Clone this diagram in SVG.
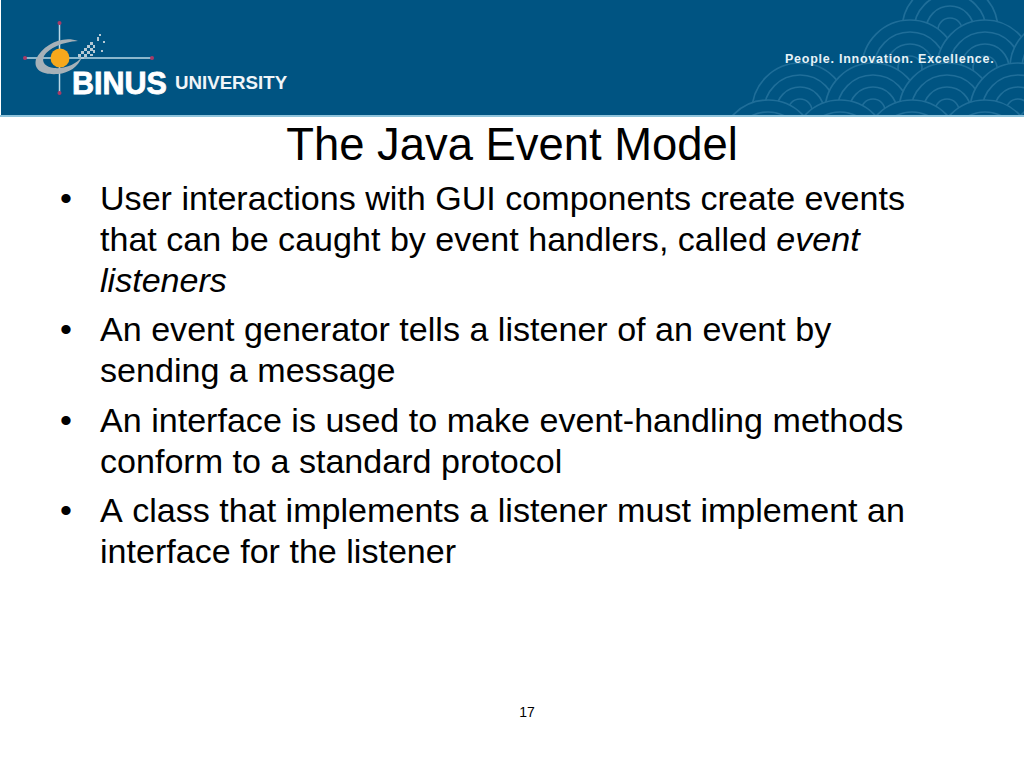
<svg xmlns="http://www.w3.org/2000/svg" width="1024" height="768" viewBox="0 0 1024 768">
<defs>
<style>
text{font-family:"Liberation Sans",Arial,sans-serif}
.b{font-size:34.1px;fill:#000;font-kerning:none}
.w{fill:#005482;stroke:#1f6e99;stroke-width:1.7}
.d{fill:#b5c9d4}
.m{fill:#a83a66}
</style>
<clipPath id="bc"><rect x="720" y="0" width="304" height="115"/></clipPath>
<g id="sc">
<circle class="w" r="48"/>
<circle class="w" r="36"/>
<circle class="w" r="24"/>
<circle class="w" r="12"/>
</g>
</defs>
<rect width="1024" height="768" fill="#fff"/>
<g id="banner">
<rect x="1" y="0" width="1023" height="115" fill="#005482"/>
<rect x="0" y="115" width="1024" height="2" fill="#8fc4dc"/>
<g clip-path="url(#bc)" id="waves">
<use href="#sc" x="950" y="30"/>
<use href="#sc" x="910" y="68"/>
<use href="#sc" x="985" y="68"/>
<use href="#sc" x="1058" y="68"/>
<use href="#sc" x="800" y="111"/>
<use href="#sc" x="873" y="111"/>
<use href="#sc" x="947" y="111"/>
<use href="#sc" x="1018" y="111"/>
<use href="#sc" x="768" y="148"/>
<use href="#sc" x="840" y="148"/>
<use href="#sc" x="912" y="148"/>
<use href="#sc" x="985" y="148"/>
<use href="#sc" x="1056" y="148"/>
</g>
<text x="785" y="63" font-size="12.5" font-weight="700" fill="#e6f2f7" letter-spacing="0.75">People. Innovation. Excellence.</text>
</g>
<g id="logo">
<path d="M59.500 23V94M25 58H152" stroke="#b9d7e6" stroke-width="1.5" fill="none"/>
<circle class="m" cx="59.500" cy="23" r="2"/><circle class="m" cx="59.500" cy="93" r="2"/><circle class="m" cx="25" cy="58" r="2"/><circle class="m" cx="152" cy="58" r="2"/>
<path d="M78 41C62 35 43 45 36 59C33 71 44 75 58 74C69 73 78 67 82 57C76 64 66 69 54 68C46 67 41 63 44 56C49 48 62 42 78 41Z" fill="#a6b1b8"/>
<circle cx="60" cy="58" r="9.500" fill="#f6a81c"/>
<path class="d" d="M78 54h3v3h-3zM81 51h3v3h-3zM84 48h3v3h-3zM87 45h3v3h-3zM90 42h3v3h-3zM84 54h3v3h-3zM87 51h3v3h-3zM90 48h3v3h-3zM93 45h2v3h-2zM81 57h3v2h-3zM90 54h3v2h-3zM93 50h2v3h-2zM97 37h2v4h-2zM99 34h2v2h-2zM103 41h2v2h-2zM101 50h2v2h-2z"/>
<text x="72" y="94" font-size="30.500" font-weight="700" fill="#fff" stroke="#fff" stroke-width=".8">BINUS</text>
<text x="175" y="89" font-size="18.700" font-weight="700" fill="#f0f5f8">UNIVERSITY</text>
</g>
<g id="title"><text x="512" y="160" font-size="45.400" text-anchor="middle" fill="#000">The Java Event Model</text></g>
<g id="bullets">
<text class="b" x="60" y="210">•</text>
<text class="b" x="100" y="210">User interactions with GUI components create events</text>
<text class="b" x="100" y="251">that can be caught by event handlers, called <tspan font-style="italic">event</tspan></text>
<text class="b" x="100" y="292" font-style="italic">listeners</text>
<text class="b" x="60" y="341">•</text>
<text class="b" x="100" y="341">An event generator tells a listener of an event by</text>
<text class="b" x="100" y="382">sending a message</text>
<text class="b" x="60" y="432">•</text>
<text class="b" x="100" y="432">An interface is used to make event-handling methods</text>
<text class="b" x="100" y="473">conform to a standard protocol</text>
<text class="b" x="60" y="522">•</text>
<text class="b" x="100" y="522">A class that implements a listener must implement an</text>
<text class="b" x="100" y="563">interface for the listener</text>
</g>
<g id="page"><text x="527" y="717" font-size="14" text-anchor="middle" fill="#000">17</text></g>
</svg>
